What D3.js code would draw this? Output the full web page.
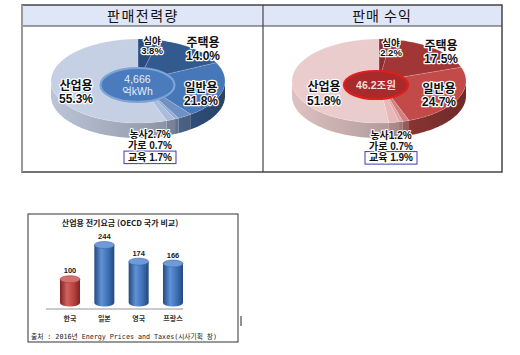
<!DOCTYPE html>
<html><head><meta charset="utf-8">
<script src="https://cdn.jsdelivr.net/npm/d3@7"></script>
<style>body{margin:0;background:#fff}svg{display:block}</style>
</head><body><svg id="c" width="520" height="355"></svg>
<script>
// ---------- data ----------
const panelTitles = ["판매전력량", "판매 수익"];
const pieCategories = ["심야", "주택용", "일반용", "농사", "가로", "교육", "산업용"];
const powerShare = [3.8, 14.0, 21.8, 2.7, 0.7, 1.7, 55.3];
const revenueShare = [2.2, 17.5, 24.7, 1.2, 0.7, 1.9, 51.8];
const centerLabels = [["4,666", "억kWh"], ["46.2조원"]];
const barTitle = "산업용 전기요금 (OECD 국가 비교)";
const barCountries = ["한국", "일본", "영국", "프랑스"];
const barValues = [100, 244, 174, 166];
const sourceNote = "출처 : 2016년 Energy Prices and Taxes(시사기획 창)";

// ---------- layout / style ----------
const FONT = "'Noto Sans CJK KR','Noto Sans',sans-serif";
const LFONT = "'Liberation Sans','Noto Sans CJK KR',sans-serif";
const svg = d3.select("#c");
const defs = svg.append("defs");

// table frame
svg.append("rect").attr("x", 22).attr("y", 5).attr("width", 480).attr("height", 21).attr("fill", "#dfe6f7");
svg.append("rect").attr("x", 22).attr("y", 5).attr("width", 480).attr("height", 167)
  .attr("fill", "none").attr("stroke", "#444").attr("stroke-width", 1.5);
svg.append("line").attr("x1", 22).attr("x2", 502).attr("y1", 26).attr("y2", 26).attr("stroke", "#444").attr("stroke-width", 1.2);
svg.append("line").attr("x1", 263).attr("x2", 263).attr("y1", 5).attr("y2", 172).attr("stroke", "#444").attr("stroke-width", 1.2);
svg.append("line").attr("x1", 22).attr("x2", 22).attr("y1", 5).attr("y2", 172).attr("stroke", "#999").attr("stroke-width", 2);

[143, 382].forEach((x, i) => {
  svg.append("text").attr("x", x).attr("y", 21).attr("text-anchor", "middle")
    .attr("font-family", FONT).attr("font-size", 14).attr("font-weight", 400)
    .attr("letter-spacing", i === 0 ? 1.5 : 1).attr("fill", "#111").text(panelTitles[i]);
});

const pieCfgs = [
  { cx: 138, cy: 81, rx: 87, ry: 42, depth: 15,
    colors: ["#2b4c7e", "#335a8f", "#4677b8", "#6f90c2", "#93aad0", "#a9bcdb", "#c6d0e4"],
    center: { cx: 137.5, cy: 85, rx: 37, ry: 17, fill: "#4a7cbd", stroke: "#7ea3d6", text: "#e3ecf8", weight: 400, gap: 12 },
    labels: [
      { dx: 14, dy: -37.5, gap: 10.8, size: 9.5 },
      { dx: 65, dy: -34.5, gap: 13.6, size: 12 },
      { dx: 63, dy: 10.5, gap: 13.6, size: 12 },
      { dx: -62, dy: 8.5, gap: 13.6, size: 12 }
    ],
    small: { dx: 12, base: 57, gap: 11.3, size: 10 }
  },
  { cx: 379, cy: 81, rx: 87, ry: 42, depth: 15,
    colors: ["#8c2c2c", "#a23535", "#c24a48", "#d47f7e", "#e0a2a2", "#e8b7b7", "#ebcccc"],
    center: { cx: 376, cy: 85, rx: 32, ry: 14, fill: "#a82a2a", stroke: "#e01e1e", text: "#f6dede", weight: 700, gap: 12 },
    labels: [
      { dx: 12, dy: -35.5, gap: 10.8, size: 9.5 },
      { dx: 62, dy: -31.5, gap: 13.6, size: 12 },
      { dx: 60, dy: 11.5, gap: 13.6, size: 12 },
      { dx: -55, dy: 10, gap: 13.6, size: 12 }
    ],
    small: { dx: 12, base: 57.5, gap: 11.3, size: 10 }
  }
];

function haloText(g, size) {
  return g.append("text").attr("text-anchor", "middle")
    .attr("font-family", LFONT).attr("font-size", size).attr("font-weight", 700)
    .attr("fill", "#111").attr("stroke", "#fff").attr("stroke-width", 2.4)
    .attr("stroke-linejoin", "round").attr("paint-order", "stroke");
}

function drawPie(values, cfg, centerText) {
  const g = svg.append("g");
  const arcs = d3.pie().sort(null).value(d => d)(values);
  const pt = (a) => [cfg.cx + cfg.rx * Math.sin(a), cfg.cy - cfg.ry * Math.cos(a)];
  const line = d3.line();
  // walls (front-facing part: angles between π/2 and 3π/2)
  arcs.forEach((a, i) => {
    const s = Math.max(a.startAngle, Math.PI / 2), e = Math.min(a.endAngle, 3 * Math.PI / 2);
    if (e <= s) return;
    const n = Math.max(2, Math.ceil((e - s) / 0.02));
    const top = d3.range(n + 1).map(k => pt(s + (e - s) * k / n));
    const bot = top.map(p => [p[0], p[1] + cfg.depth]).reverse();
    const gid = "w" + cfg.cx + "_" + i;
    const c = d3.color(cfg.colors[i]);
    const gr = defs.append("linearGradient").attr("id", gid).attr("gradientUnits", "userSpaceOnUse")
      .attr("x1", cfg.cx - cfg.rx).attr("x2", cfg.cx + cfg.rx).attr("y1", 0).attr("y2", 0);
    gr.append("stop").attr("offset", 0).attr("stop-color", c.darker(0.15));
    gr.append("stop").attr("offset", 0.5).attr("stop-color", c.darker(0.7));
    gr.append("stop").attr("offset", 1).attr("stop-color", c.darker(1.6));
    g.append("path").attr("d", line(top.concat(bot)) + "Z").attr("fill", "url(#" + gid + ")");
  });
  // tops
  arcs.forEach((a, i) => {
    const n = Math.max(2, Math.ceil((a.endAngle - a.startAngle) / 0.02));
    const pts = [[cfg.cx, cfg.cy]].concat(d3.range(n + 1).map(k => pt(a.startAngle + (a.endAngle - a.startAngle) * k / n)));
    g.append("path").attr("d", line(pts) + "Z").attr("fill", cfg.colors[i])
      .attr("stroke", "#ffffff").attr("stroke-opacity", 0.25).attr("stroke-width", 0.6);
  });
  // center ellipse
  const ce = cfg.center;
  g.append("ellipse").attr("cx", ce.cx).attr("cy", ce.cy).attr("rx", ce.rx).attr("ry", ce.ry)
    .attr("fill", ce.fill).attr("stroke", ce.stroke).attr("stroke-width", 2.2);
  const startY = ce.cy + 4 - (centerText.length - 1) * ce.gap / 2;
  const ct = g.append("text").attr("text-anchor", "middle")
    .attr("font-family", LFONT).attr("font-size", 10.5).attr("font-weight", ce.weight).attr("fill", ce.text);
  centerText.forEach((t, k) => {
    ct.append("tspan").attr("x", ce.cx).attr("y", startY + k * ce.gap).text(t);
  });
  // main labels (심야, 주택용, 일반용, 산업용)
  [0, 1, 2, 6].forEach((idx, j) => {
    const L = cfg.labels[j];
    const t = haloText(g, L.size);
    t.append("tspan").attr("x", cfg.cx + L.dx).attr("y", cfg.cy + L.dy).text(pieCategories[idx]);
    t.append("tspan").attr("x", cfg.cx + L.dx).attr("y", cfg.cy + L.dy + L.gap).text(values[idx].toFixed(1) + "%");
  });
  // small-slice stack (농사, 가로, 교육)
  const sm = cfg.small;
  const x = cfg.cx + sm.dx;
  const t = haloText(g, sm.size).attr("stroke-width", 2.2);
  let last;
  [3, 4, 5].forEach((idx, k) => {
    const txt = pieCategories[idx] + (idx === 3 ? "" : " ") + values[idx].toFixed(1) + "%";
    last = t.append("tspan").attr("x", x).attr("y", cfg.cy + sm.base + k * sm.gap).text(txt);
  });
  const len = last.node().getComputedTextLength();
  const yb = cfg.cy + sm.base + 2 * sm.gap;
  g.insert("rect", "text").attr("x", x - len / 2 - 4).attr("y", yb - 9.5).attr("width", len + 8).attr("height", 12.5)
    .attr("fill", "#fff").attr("stroke", "#3b3bb8").attr("stroke-width", 1);
}
drawPie(powerShare, pieCfgs[0], centerLabels[0]);
drawPie(revenueShare, pieCfgs[1], centerLabels[1]);

// ---------- bar chart ----------
const bg = svg.append("g");
bg.append("rect").attr("x", 28).attr("y", 214).attr("width", 210).attr("height", 128)
  .attr("fill", "#fff").attr("stroke", "#333").attr("stroke-width", 1);
bg.append("line").attr("x1", 241).attr("x2", 241).attr("y1", 316).attr("y2", 326).attr("stroke", "#222").attr("stroke-width", 1);
bg.append("text").attr("x", 120).attr("y", 226).attr("text-anchor", "middle")
  .attr("font-family", FONT).attr("font-size", 8).attr("font-weight", 700).attr("fill", "#222").text(barTitle);

const xs = d3.scalePoint().domain(barCountries).range([70, 173]);
const ys = d3.scaleLinear().domain([0, 244]).range([303, 245]);
const bw = 20, ery = 3.5;

function cylGrad(id, dark, mid, light) {
  const gr = defs.append("linearGradient").attr("id", id).attr("x1", 0).attr("x2", 1).attr("y1", 0).attr("y2", 0);
  gr.append("stop").attr("offset", 0).attr("stop-color", dark);
  gr.append("stop").attr("offset", 0.35).attr("stop-color", light);
  gr.append("stop").attr("offset", 0.7).attr("stop-color", mid);
  gr.append("stop").attr("offset", 1).attr("stop-color", dark);
}
cylGrad("cylB", "#24487e", "#3d6fb3", "#5f92d6");
cylGrad("cylR", "#7e2321", "#b5413e", "#d0625f");

bg.append("line").attr("x1", 46).attr("x2", 183).attr("y1", 309).attr("y2", 309).attr("stroke", "#b8b8b8").attr("stroke-width", 1.5);

barCountries.forEach((c, i) => {
  const cx = xs(c), x0 = cx - bw / 2, x1 = cx + bw / 2;
  const yt = ys(barValues[i]), yb = ys(0);
  const red = i === 0;
  bg.append("path")
    .attr("d", `M${x0},${yt}L${x0},${yb}A${bw / 2},${ery} 0 0 0 ${x1},${yb}L${x1},${yt}Z`)
    .attr("fill", red ? "url(#cylR)" : "url(#cylB)");
  bg.append("ellipse").attr("cx", cx).attr("cy", yt).attr("rx", bw / 2).attr("ry", ery)
    .attr("fill", red ? "#d2716e" : "#6e9bd8").attr("stroke", red ? "#a83a37" : "#3a68a8").attr("stroke-width", 0.6);
  bg.append("text").attr("x", cx).attr("y", yt - 6).attr("text-anchor", "middle")
    .attr("font-family", LFONT).attr("font-size", 7.5).attr("font-weight", 700).attr("fill", "#222").text(barValues[i]);
  bg.append("text").attr("x", cx).attr("y", 321).attr("text-anchor", "middle")
    .attr("font-family", FONT).attr("font-size", 7).attr("font-weight", 700).attr("fill", "#333").text(c);
});

bg.append("text").attr("x", 31).attr("y", 339)
  .attr("font-family", "'DejaVu Sans Mono','Noto Sans CJK KR',monospace").attr("font-size", 7)
  .attr("textLength", 186).attr("lengthAdjust", "spacingAndGlyphs").attr("fill", "#222").text(sourceNote);
</script></body></html>
